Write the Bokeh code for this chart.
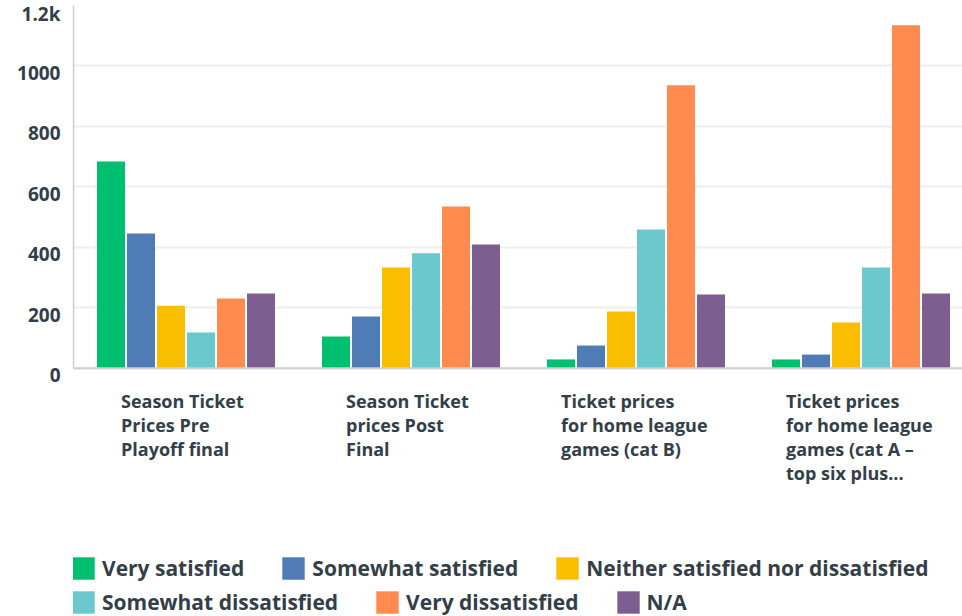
from bokeh.plotting import figure
from bokeh.models import (Range1d, FixedTicker, Legend, LegendItem, Label,
                          LinearAxis, Span)
from bokeh.embed import file_html
from bokeh.resources import INLINE

categories = [
    "Season Ticket\nPrices Pre\nPlayoff final",
    "Season Ticket\nprices Post\nFinal",
    "Ticket prices\nfor home league\ngames (cat B)",
    "Ticket prices\nfor home league\ngames (cat A \u2013\ntop six plus...",
]
series_names = [
    "Very satisfied",
    "Somewhat satisfied",
    "Neither satisfied nor dissatisfied",
    "Somewhat dissatisfied",
    "Very dissatisfied",
    "N/A",
]
very_satisfied = [684, 105, 29, 29]
somewhat_satisfied = [446, 171, 75, 45]
neither = [207, 333, 188, 151]
somewhat_dissatisfied = [118, 380, 459, 333]
very_dissatisfied = [231, 535, 936, 1135]
not_applicable = [247, 409, 244, 247]
y_ticks = [0, 200, 400, 600, 800, 1000, 1200]
y_tick_labels = ["0", "200", "400", "600", "800", "1000", "1.2k"]

series_values = [very_satisfied, somewhat_satisfied, neither,
                 somewhat_dissatisfied, very_dissatisfied, not_applicable]
colors = ["#00bf6f", "#507cb6", "#f9be00", "#6bc8cd", "#ff8b4f", "#7d5e90"]
label_shift = [-65, -65, -75, -75]

TEXT = "#333e48"
FONT = "Open Sans"

Y_MIN, Y_MAX = -821.5, 1200
LABEL_SHIFT = 23  # data units (~7 px) that the tick labels sit below their gridlines

p = figure(width=962, height=616, output_backend="svg", toolbar_location=None,
           x_range=Range1d(-0.5, 3.451), y_range=Range1d(Y_MIN, Y_MAX),
           min_border_left=73, min_border_right=0, min_border_top=5,
           min_border_bottom=0, y_axis_location=None, x_axis_location=None)
p.outline_line_color = None
p.background_fill_color = "white"
p.border_fill_color = "white"

pitch = 30 / 225
bw = 28 / 225
xs = list(range(len(categories)))
renderers = []
for k, (vals, col) in enumerate(zip(series_values, colors)):
    off = (k - 2.5) * pitch
    r = p.vbar(x=[x + off for x in xs], top=vals, width=bw, bottom=0,
               fill_color=col, line_color=None)
    renderers.append(r)

# grid lines
p.xgrid.grid_line_color = None
p.ygrid.ticker = FixedTicker(ticks=y_ticks)
p.ygrid.grid_line_color = "#eeeeee"
p.ygrid.grid_line_width = 2

# y axis line (main range, bounded to the value range)
yline = LinearAxis(ticker=FixedTicker(ticks=y_ticks), bounds=(0, 1200),
                   major_label_overrides={t: "" for t in y_ticks},
                   major_tick_out=0, major_tick_in=0, minor_tick_out=0,
                   minor_tick_in=0, major_label_standoff=0,
                   axis_line_color="#cfcfcf", axis_line_width=1.5)
p.add_layout(yline, "left")

# y tick labels (sit slightly below their gridlines)
p.extra_y_ranges = {"lab": Range1d(Y_MIN + LABEL_SHIFT, Y_MAX + LABEL_SHIFT)}
ylab = LinearAxis(y_range_name="lab", ticker=FixedTicker(ticks=y_ticks),
                  major_label_overrides={t: l for t, l in zip(y_ticks, y_tick_labels)},
                  major_tick_out=0, major_tick_in=0, minor_tick_out=0,
                  minor_tick_in=0, major_label_standoff=13,
                  axis_line_color=None,
                  major_label_text_font=FONT, major_label_text_font_size="19px",
                  major_label_text_font_style="bold",
                  major_label_text_color=TEXT)
p.add_layout(ylab, "left")

# x axis line
p.add_layout(Span(location=0, dimension="width", line_color="#cfcfcf",
                  line_width=2))

for i, cat in enumerate(categories):
    p.add_layout(Label(x=i, y=0, x_units="data", y_units="data",
                       x_offset=label_shift[i], y_offset=-21, text=cat,
                       text_align="left", text_baseline="top",
                       text_font=FONT, text_font_size="18px",
                       text_font_style="bold", text_color=TEXT,
                       text_line_height=1.0))

items = [LegendItem(label=n, renderers=[r]) for n, r in zip(series_names, renderers)]
for its, vy in [(items[:3], 34), (items[3:], 0)]:
    lg = Legend(items=its, location=(-4, vy), orientation="horizontal",
                padding=0, margin=0, spacing=35, label_standoff=5,
                glyph_width=28, glyph_height=28,
                label_text_font=FONT, label_text_font_size="21px",
                label_text_font_style="bold", label_text_color=TEXT,
                border_line_color=None, background_fill_alpha=0)
    p.add_layout(lg)

open("out.html", "w").write(file_html(p, INLINE))
